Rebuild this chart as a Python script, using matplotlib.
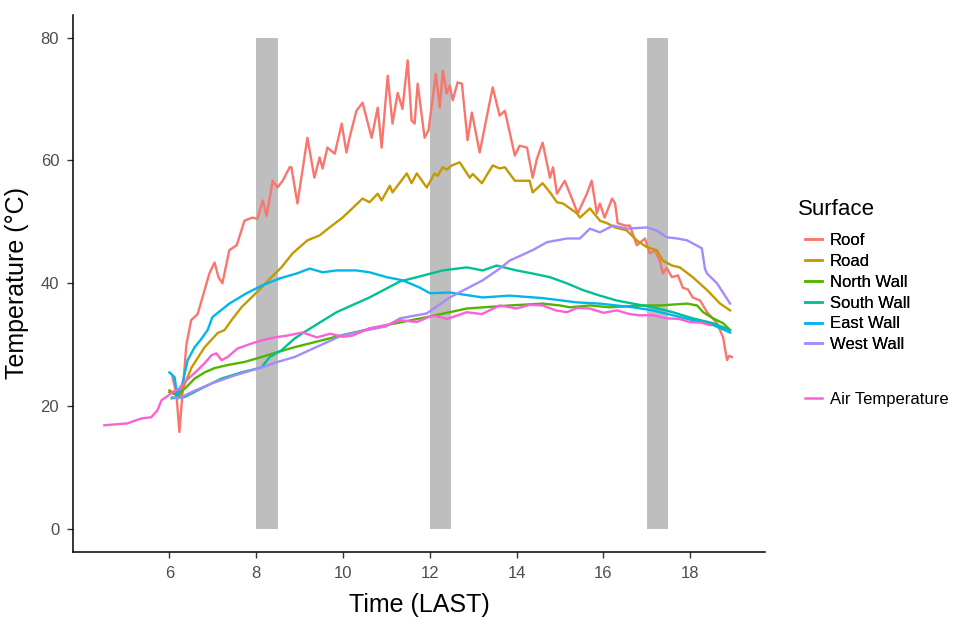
import matplotlib.pyplot as plt
from matplotlib.lines import Line2D

plt.rcParams['font.family'] = ['Liberation Sans', 'DejaVu Sans']

# colours (ggplot default hue palette, 7 levels)
colors = {
    'Roof': '#F8766D', 'Road': '#C49A00', 'North Wall': '#53B400',
    'South Wall': '#00C094', 'East Wall': '#00B6EB', 'West Wall': '#A58AFF',
    'Air Temperature': '#FB61D7',
}

# shaded time windows (hours)
windows = [(8.0, 8.5), (12.0, 12.5), (17.0, 17.5)]

roof_t = [6.07, 6.16, 6.23, 6.30, 6.39, 6.50, 6.65, 6.81, 6.92, 7.04, 7.13, 7.22, 7.38, 7.55,
          7.73, 7.91, 8.03, 8.15, 8.24, 8.38, 8.49, 8.61, 8.77, 8.81, 8.95, 9.18, 9.34, 9.46,
          9.53, 9.64, 9.81, 9.97, 10.08, 10.15, 10.31, 10.45, 10.66, 10.80, 10.89, 11.03,
          11.14, 11.26, 11.37, 11.49, 11.58, 11.65, 11.72, 11.88, 11.97, 12.14, 12.23, 12.30,
          12.39, 12.46, 12.53, 12.64, 12.74, 12.87, 12.97, 13.15, 13.31, 13.45, 13.61, 13.73,
          13.96, 14.07, 14.24, 14.37, 14.47, 14.60, 14.77, 14.84, 14.93, 15.11, 15.23, 15.41,
          15.62, 15.73, 15.85, 15.92, 16.03, 16.20, 16.27, 16.33, 16.50, 16.61, 16.77, 16.96,
          17.07, 17.19, 17.30, 17.37, 17.46, 17.58, 17.72, 17.83, 17.95, 18.06, 18.23, 18.39,
          18.62, 18.76, 18.85, 18.90, 18.96]
roof_y = [24.7, 22.0, 15.8, 22.0, 30.0, 34.0, 35.0, 38.9, 41.6, 43.4, 41.0, 40.0, 45.4, 46.2,
          50.2, 50.7, 50.5, 53.5, 51.0, 56.7, 55.6, 56.7, 58.9, 58.9, 53.0, 63.7, 57.2, 60.5,
          58.7, 62.1, 61.1, 66.0, 61.3, 63.7, 68.1, 69.4, 63.7, 68.6, 62.1, 73.8,
          66.0, 71.0, 68.4, 76.3, 66.5, 66.0, 72.5, 63.7, 64.9, 74.1, 68.6, 74.6,
          70.9, 72.2, 69.8, 72.7, 72.5, 63.3, 67.8, 61.3, 67.0, 71.9, 67.3, 68.1,
          60.8, 62.4, 62.1, 57.2, 60.3, 62.9, 57.2, 58.9, 54.6, 56.7, 54.6, 51.4,
          54.6, 56.7, 51.4, 53.0, 50.7, 53.8, 53.0, 49.8, 49.4, 49.4, 46.2, 47.3,
          44.9, 45.3, 43.7, 41.6, 42.5, 41.0, 41.3, 39.3, 39.0, 37.7, 37.2, 35.3,
          33.5, 31.2, 27.5, 28.2, 28.0]

road_t = [6.00, 6.23, 6.51, 6.81, 7.11, 7.27, 7.43, 7.66, 7.89, 8.12, 8.35, 8.58, 8.84, 9.18,
          9.46, 9.69, 9.99, 10.45, 10.61, 10.80, 10.89, 11.08, 11.14, 11.47, 11.58, 11.70,
          11.93, 12.11, 12.18, 12.30, 12.39, 12.51, 12.69, 12.92, 12.99, 13.20, 13.45, 13.61,
          13.73, 13.96, 14.07, 14.30, 14.37, 14.60, 14.77, 14.93, 15.07, 15.39, 15.46, 15.69,
          15.92, 16.08, 16.27, 16.54, 16.77, 17.00, 17.23, 17.37, 17.58, 17.76, 18.06, 18.39,
          18.69, 18.92]
road_y = [22.6, 21.5, 26.3, 29.6, 31.9, 32.4, 34.0, 36.1, 37.7, 39.3, 41.0, 42.6, 44.9, 47.0,
          47.8, 49.1, 50.7, 53.8, 53.2, 54.6, 53.5, 55.9, 54.8, 57.9, 56.3, 57.9,
          55.6, 57.9, 57.5, 58.9, 58.5, 59.2, 59.7, 57.2, 57.8, 56.3, 59.2, 58.7,
          58.9, 56.7, 56.7, 56.7, 54.8, 56.3, 54.8, 53.2, 53.0, 51.4, 50.7, 52.2,
          50.2, 49.8, 49.1, 48.6, 47.0, 45.9, 45.4, 43.7, 42.9, 42.6, 41.0, 38.9,
          36.7, 35.6]

north_t = [6.00, 6.18, 6.39, 6.58, 6.81, 7.04, 7.34, 7.73, 8.12, 8.49, 8.88, 9.50, 10.00,
           10.50, 11.00, 11.50, 11.93, 12.85, 13.84, 14.60, 15.00, 15.23, 15.69, 16.15, 16.91,
           17.30, 17.93, 18.16, 18.30, 18.53, 18.76, 18.92]
north_y = [22.3, 21.8, 23.1, 24.5, 25.5, 26.2, 26.7, 27.2, 28.0, 28.8, 29.6, 30.7, 31.6,
           32.4, 33.2, 33.9, 34.5, 35.9, 36.4, 36.7, 36.4, 36.1, 36.4, 36.1, 36.4,
           36.4, 36.7, 36.4, 35.3, 34.3, 33.5, 32.4]

south_t = [6.05, 6.35, 6.74, 7.20, 7.66, 8.12, 8.31, 8.58, 8.88, 9.07, 9.85, 10.61, 11.31,
           11.70, 12.30, 12.85, 13.22, 13.54, 14.00, 14.37, 14.77, 15.16, 15.53, 15.92, 16.31,
           16.68, 17.14, 17.60, 18.06, 18.53, 18.92]
south_y = [21.3, 21.5, 22.9, 24.5, 25.5, 26.3, 28.0, 29.1, 31.0, 31.9, 35.3, 37.7, 40.3,
           41.0, 42.1, 42.6, 42.1, 42.9, 42.1, 41.6, 41.0, 40.0, 38.9, 38.0, 37.2,
           36.7, 36.1, 35.3, 34.3, 33.5, 32.4]

east_t = [6.00, 6.12, 6.16, 6.18, 6.30, 6.42, 6.58, 6.74, 6.88, 6.99, 7.38, 7.78, 8.15, 8.54,
          8.93, 9.23, 9.53, 9.85, 10.31, 10.61, 11.01, 11.37, 11.77, 12.00, 12.46, 13.22,
          13.84, 14.60, 15.39, 15.92, 16.68, 17.14, 17.60, 18.06, 18.53, 18.92]
east_y = [25.5, 24.7, 22.6, 21.8, 23.7, 27.5, 29.6, 31.0, 32.4, 34.5, 36.7, 38.4, 39.7, 40.8,
          41.6, 42.4, 41.8, 42.1, 42.1, 41.8, 41.0, 40.5, 39.3, 38.4, 38.5, 37.7,
          38.0, 37.6, 36.9, 36.7, 36.1, 35.6, 34.8, 34.0, 33.2, 32.0]

west_t = [6.07, 6.23, 6.51, 6.97, 7.50, 8.12, 8.49, 8.88, 10.00, 11.00, 11.31, 11.93, 12.46,
          13.22, 13.61, 13.84, 14.37, 14.70, 14.93, 15.16, 15.46, 15.69, 15.92, 16.22, 16.54,
          17.00, 17.23, 17.46, 17.70, 17.93, 18.06, 18.27, 18.34, 18.39, 18.62, 18.92]
west_y = [21.5, 21.3, 22.3, 23.7, 25.0, 26.3, 27.2, 28.0, 31.6, 33.0, 34.3, 35.1, 37.7,
          40.5, 42.4, 43.7, 45.4, 46.7, 47.0, 47.3, 47.3, 48.9, 48.3, 49.4, 48.9,
          49.1, 48.6, 47.5, 47.3, 47.0, 46.5, 45.7, 42.4, 41.6, 40.0, 36.7]

air_t = [4.50, 5.03, 5.35, 5.58, 5.72, 5.82, 5.93, 6.07, 6.23, 6.39, 6.58, 6.81, 6.97, 7.08,
         7.20, 7.34, 7.57, 7.89, 8.12, 8.42, 8.72, 9.07, 9.40, 9.70, 10.00, 10.22, 10.61,
         11.01, 11.31, 11.70, 12.07, 12.40, 12.85, 13.20, 13.61, 14.00, 14.30, 14.60, 14.90,
         15.16, 15.40, 15.69, 16.00, 16.31, 16.60, 16.84, 17.15, 17.46, 17.75, 17.99, 18.25,
         18.46]
air_y = [16.9, 17.2, 18.0, 18.2, 19.3, 21.0, 21.5, 22.3, 22.9, 24.2, 25.4, 27.0, 28.3, 28.6,
         27.5, 28.0, 29.4, 30.2, 30.7, 31.2, 31.5, 32.0, 31.2, 31.8, 31.3, 31.5, 32.7,
         33.2, 34.0, 33.7, 34.8, 34.2, 35.3, 35.0, 36.4, 35.9, 36.5, 36.4, 35.6,
         35.3, 36.0, 35.9, 35.2, 35.6, 35.0, 34.8, 34.8, 34.3, 34.2, 33.7, 33.6,
         33.2]

surfaces = [('Roof', roof_t, roof_y), ('Road', road_t, road_y),
            ('North Wall', north_t, north_y), ('South Wall', south_t, south_y),
            ('East Wall', east_t, east_y), ('West Wall', west_t, west_y)]

fig = plt.figure(figsize=(9.62, 6.2), dpi=100)
ax = fig.add_axes([0.076, 0.110, 0.719, 0.866])

for x0, x1 in windows:
    ax.fill_between([x0, x1], 0, 80, color='#BEBEBE', lw=0, zorder=1)

for name, t, y in surfaces:
    ax.plot(t, y, color=colors[name], lw=1.7, zorder=3)
ax.plot(air_t, air_y, color=colors['Air Temperature'], lw=1.7, zorder=3)

ax.set_xlim(3.78, 19.72)
ax.set_ylim(-3.7, 83.7)
ax.set_xticks([6, 8, 10, 12, 14, 16, 18])
ax.set_yticks([0, 20, 40, 60, 80])
for s in ['top', 'right']:
    ax.spines[s].set_visible(False)
for s in ['left', 'bottom']:
    ax.spines[s].set_linewidth(1.1)
ax.tick_params(length=4, width=1, color='#333333', labelcolor='#4D4D4D', labelsize=12, pad=6)
ax.set_xlabel('Time (LAST)', fontsize=18, labelpad=9)
ax.set_ylabel('Temperature (°C)', fontsize=18, labelpad=8)

fig.text(798 / 962, 1 - 209 / 620, 'Surface', fontsize=16, va='center', ha='left')
h1 = [Line2D([], [], color=colors[n], lw=1.8) for n, _, _ in surfaces]
leg1 = fig.legend(h1, [n for n, _, _ in surfaces], loc='upper left',
                  bbox_to_anchor=(805 / 962, 1 - 233 / 620), frameon=False, fontsize=12,
                  handlelength=1.0, handletextpad=0.5, labelspacing=0.35,
                  borderpad=0, borderaxespad=0)
leg2 = fig.legend([Line2D([], [], color=colors['Air Temperature'], lw=1.8)], ['Air Temperature'],
                  loc='upper left', bbox_to_anchor=(805 / 962, 1 - 392 / 620), frameon=False,
                  fontsize=12, handlelength=1.0, handletextpad=0.5,
                  borderpad=0, borderaxespad=0)
fig.add_artist(leg1)

fig.savefig('out.png', dpi=100)
